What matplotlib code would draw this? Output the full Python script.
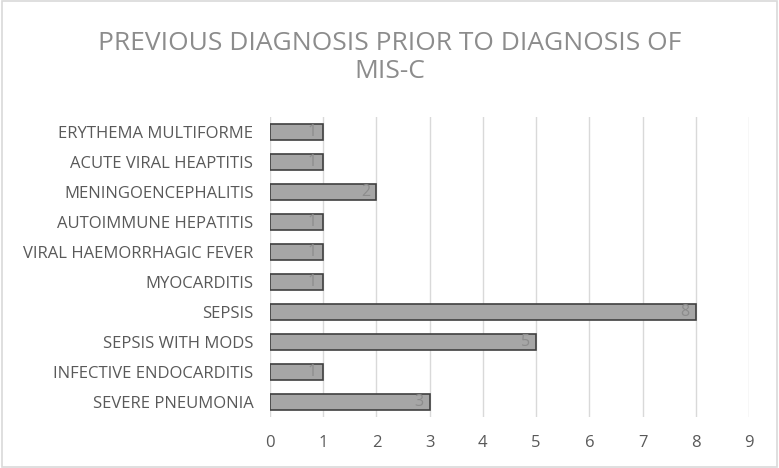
import matplotlib
matplotlib.use('Agg')
import matplotlib.pyplot as plt
from matplotlib.patches import Rectangle

plt.rcParams['font.family'] = ['Open Sans', 'DejaVu Sans']

categories = ['SEVERE PNEUMONIA', 'INFECTIVE ENDOCARDITIS', 'SEPSIS WITH MODS', 'SEPSIS',
              'MYOCARDITIS', 'VIRAL HAEMORRHAGIC FEVER', 'AUTOIMMUNE HEPATITIS',
              'MENINGOENCEPHALITIS', 'ACUTE VIRAL HEAPTITIS', 'ERYTHEMA MULTIFORME']
counts = [3, 1, 5, 8, 1, 1, 1, 2, 1, 1]
xticks = list(range(0, 10))

fig = plt.figure(figsize=(7.79, 4.68), dpi=100)
fig.patches.append(Rectangle((0.002, 0.002), 0.996, 0.996, transform=fig.transFigure,
                             fill=False, edgecolor='#d9d9d9', linewidth=1.2))
ax = fig.add_axes([0.3466, 0.109, 0.6149, 0.641])

ypos = range(len(categories))
bars = ax.barh(ypos, counts, height=0.53, color='#a6a6a6', edgecolor='#404040', linewidth=1.2, zorder=3)
for y, v in zip(ypos, counts):
    ax.text(v - 0.12, y, str(v), ha='right', va='center', fontsize=11.5, color='#8c8c8c', zorder=4)

ax.set_xlim(0, 9)
ax.set_ylim(-0.5, 9.5)
ax.set_xticks(xticks)
ax.set_yticks(list(ypos))
ax.set_yticklabels(categories)
ax.grid(axis='x', color='#d9d9d9', linewidth=1, zorder=0)
for s in ax.spines.values():
    s.set_visible(False)
ax.tick_params(length=0, labelsize=12, colors='#595959', pad=12)
ax.tick_params(axis='x', pad=13)

fig.text(0.5, 0.878, 'PREVIOUS DIAGNOSIS PRIOR TO DIAGNOSIS OF\nMIS-C', ha='center', va='center',
         fontsize=19, color='#8c8c8c', linespacing=1.15)

fig.savefig('out.png', dpi=100)
